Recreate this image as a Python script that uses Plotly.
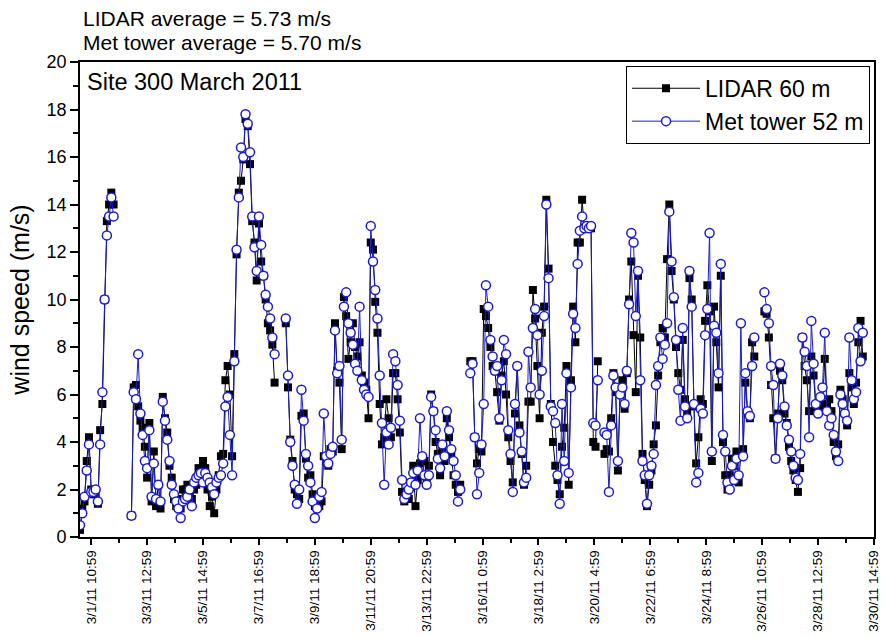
import pandas as pd
import plotly.graph_objects as go

# ---- data: wind speed records sampled every 2 h, split where the record has gaps ----
tick_labels = [
    "3/1/11 10:59", "3/3/11 12:59", "3/5/11 14:59", "3/7/11 16:59",
    "3/9/11 18:59", "3/11/11 20:59", "3/13/11 22:59", "3/16/11 0:59",
    "3/18/11 2:59", "3/20/11 4:59", "3/22/11 6:59", "3/24/11 8:59",
    "3/26/11 10:59", "3/28/11 12:59", "3/30/11 14:59",
]

seg_start = [
    "2011-03-01 01:00", "2011-03-02 23:00", "2011-03-08 17:00",
    "2011-03-15 14:00", "2011-03-20 14:00", "2011-03-26 13:00",
]
step_hours = 2

lidar_a = [0.3, 1.2, 1.5, 3.2, 4.2, 2.0, 1.8, 1.8, 1.4, 4.5, 5.6, 10.0, 13.3, 14.0, 14.5, 14.0]
met_a = [0.5, 1.0, 1.7, 2.8, 3.9, 1.9, 1.9, 2.0, 1.5, 3.9, 6.1, 10.0, 12.7, 13.5, 14.3, 13.5]

lidar_b = [0.9, 6.3, 6.4, 5.5, 4.9, 4.6, 3.8, 2.5, 4.8, 1.5, 3.6, 1.3, 2.2, 1.2, 5.9, 5.0,
           4.4, 3.0, 2.5, 1.6, 1.3, 1.6, 1.2, 2.0, 2.0, 2.2, 1.9, 1.6, 2.0, 2.2, 2.9, 2.4,
           3.2, 2.9, 2.0, 1.3, 1.7, 1.0, 2.0, 2.6, 3.4, 3.5, 6.6, 7.2, 6.0, 3.4, 7.7, 11.9,
           14.5, 15.0, 15.9, 17.6, 17.3, 15.7, 13.3, 12.4, 10.8, 13.2, 11.6, 11.0, 10.0, 9.0,
           8.7, 8.1, 6.5]
met_b = [0.9, 6.1, 5.8, 7.7, 5.2, 4.3, 3.2, 2.9, 4.5, 1.7, 3.1, 1.6, 2.2, 1.5, 5.7, 4.9,
         4.1, 3.2, 2.2, 1.8, 1.5, 1.2, 0.8, 1.5, 1.6, 1.7, 2.0, 1.3, 2.3, 2.5, 2.6, 2.7,
         2.3, 2.7, 2.5, 2.3, 2.1, 1.8, 2.3, 2.5, 2.6, 3.1, 5.5, 5.9, 4.3, 2.6, 7.4, 12.1,
         14.3, 16.4, 16.0, 17.8, 17.4, 16.2, 13.5, 12.2, 11.2, 13.5, 12.3, 11.0, 10.2, 9.7,
         9.2, 8.4, 7.7]

lidar_c = [9.0, 6.3, 4.1, 3.2, 2.0, 1.8, 1.6, 5.1, 5.2, 3.3, 2.5, 2.6, 1.8, 1.3, 1.6, 1.3,
           1.5, 3.4, 3.2, 3.0, 3.7, 3.6, 9.0, 7.0, 6.5, 3.7, 10.1, 9.3, 7.5, 8.2, 9.0, 8.0,
           7.6, 8.2, 6.8, 6.5, 6.2, 5.0, 12.4, 12.1, 9.9, 8.6, 5.6, 3.9, 4.2, 5.8, 5.0, 4.2,
           6.9, 6.9, 5.8, 4.4, 1.9, 1.5, 1.9, 1.6, 2.1, 3.0, 1.3, 2.4, 3.1, 2.6, 3.2, 2.5,
           3.0, 6.0, 5.3, 4.0, 3.5, 2.6, 3.7, 3.2, 5.0, 4.2, 3.5, 2.6, 2.2, 1.9, 2.2]
met_c = [9.2, 6.8, 4.0, 3.0, 2.2, 1.4, 2.0, 6.2, 4.9, 3.5, 3.0, 2.3, 1.5, 0.8, 1.2, 1.7,
         1.9, 5.2, 3.4, 3.1, 3.5, 3.8, 8.7, 6.9, 7.2, 4.1, 9.7, 10.3, 9.0, 8.6, 8.1, 7.3,
         7.0, 9.7, 6.6, 6.2, 6.0, 5.9, 13.1, 11.6, 10.4, 9.2, 6.8, 4.8, 2.2, 4.4, 3.9, 4.6,
         7.7, 7.4, 6.4, 4.9, 2.4, 1.6, 1.8, 2.0, 2.3, 2.7, 2.2, 2.8, 5.0, 3.4, 2.6, 2.2,
         2.6, 5.9, 5.3, 4.5, 3.3, 2.9, 3.9, 3.4, 5.3, 4.5, 3.7, 3.2, 2.6, 1.5, 2.0]

lidar_d = [7.4, 7.4, 4.2, 3.1, 3.7, 3.6, 9.6, 9.3, 8.8, 8.0, 7.2, 7.0, 6.1, 4.9, 6.8, 7.4,
           6.0, 4.2, 3.2, 2.3, 5.2, 7.2, 4.7, 3.5, 2.2, 3.0, 5.7, 5.7, 10.4, 9.2, 7.2, 5.0,
           8.6, 9.7, 14.2, 11.3, 5.6, 4.0, 3.0, 2.4, 1.8, 3.8, 4.6, 7.2, 2.2, 6.6, 9.7, 8.2,
           12.4, 12.4, 14.2, 13.0, 13.0, 13.0, 13.0, 4.0, 3.8, 7.4]
met_d = [6.9, 7.3, 4.2, 1.8, 2.7, 3.9, 5.6, 10.6, 9.7, 8.3, 7.6, 7.0, 7.2, 5.0, 6.6, 8.3,
         7.7, 4.5, 3.5, 1.9, 5.6, 7.2, 4.4, 3.6, 2.3, 2.5, 7.8, 6.3, 8.8, 9.6, 8.5, 6.0,
         7.0, 9.3, 14.0, 10.9, 5.5, 5.3, 4.8, 2.6, 1.4, 5.6, 3.2, 6.9, 2.7, 6.3, 9.4, 8.8,
         11.5, 12.9, 13.5, 13.0, 13.1, 13.0, 13.1, 4.8, 4.7, 6.6]

lidar_e = [3.5, 3.7, 3.6, 5.0, 6.9, 6.1, 2.8, 6.3, 6.6, 5.4, 6.9, 10.0, 11.6, 8.5, 6.1, 11.0,
           8.4, 3.5, 2.4, 1.3, 2.2, 2.8, 3.9, 4.7, 6.8, 8.2, 8.8, 8.4, 11.7, 14.0, 11.2, 10.0,
           8.0, 6.9, 6.2, 8.3, 5.8, 5.3, 10.9, 10.0, 5.5, 3.1, 4.2, 5.8, 5.6, 9.1, 10.6, 9.5,
           3.2, 9.7, 8.2, 6.3, 11.0, 4.0, 2.6, 2.0, 2.6, 3.3, 3.0, 3.6, 2.3, 3.5, 3.7, 6.5,
           5.2, 5.0, 8.2, 7.6]
met_e = [4.4, 4.3, 1.9, 4.7, 6.8, 6.3, 3.2, 6.0, 6.3, 5.6, 7.0, 9.8, 12.8, 12.4, 9.3, 11.2,
         6.6, 3.2, 2.6, 1.4, 2.6, 3.0, 3.5, 6.4, 7.2, 8.4, 7.5, 8.1, 9.0, 13.7, 11.6, 10.1,
         8.3, 6.2, 4.9, 8.8, 5.5, 5.0, 11.2, 9.7, 5.6, 2.3, 2.7, 5.4, 5.2, 8.5, 9.6, 12.8,
         3.6, 8.9, 8.6, 6.9, 11.5, 4.3, 3.6, 2.3, 2.0, 3.0, 2.4, 3.3, 2.6, 9.0, 3.4, 6.9,
         5.3, 5.1, 7.2, 8.4]

lidar_f = [9.5, 9.4, 8.4, 6.4, 5.0, 3.3, 5.2, 7.0, 6.6, 5.2, 4.8, 3.8, 3.2, 2.8, 2.4, 1.9,
           2.9, 8.4, 7.2, 6.6, 5.3, 7.6, 6.8, 5.4, 5.3, 5.8, 5.5, 7.5, 5.6, 5.8, 5.3, 4.0,
           3.4, 3.9, 6.2, 5.8, 5.2, 4.7, 6.9, 6.3, 5.6, 6.5, 8.2, 9.1, 7.6]
met_f = [10.3, 9.6, 9.0, 7.2, 6.4, 3.3, 5.0, 7.3, 6.8, 5.5, 4.7, 4.1, 3.6, 3.0, 2.5, 2.4,
         3.5, 8.4, 7.8, 7.2, 4.2, 9.1, 7.3, 5.6, 5.2, 5.9, 6.3, 8.6, 5.3, 4.7, 5.0, 4.3,
         3.6, 3.2, 6.0, 5.6, 5.2, 4.9, 8.4, 6.6, 5.8, 6.1, 8.8, 7.4, 8.6]

lidar_segments = [lidar_a, lidar_b, lidar_c, lidar_d, lidar_e, lidar_f]
met_segments = [met_a, met_b, met_c, met_d, met_e, met_f]


def join_segments(starts, segments):
    """Concatenate the record pieces, leaving a None between them so the line breaks."""
    xs, ys = [], []
    for start, vals in zip(starts, segments):
        times = pd.date_range(start, periods=len(vals), freq=f"{step_hours}h")
        xs.extend(times.to_pydatetime().tolist())
        ys.extend(vals)
        xs.append(None)
        ys.append(None)
    return xs[:-1], ys[:-1]


lidar_x, lidar_y = join_segments(seg_start, lidar_segments)
met_x, met_y = join_segments(seg_start, met_segments)

tick_times = pd.to_datetime(tick_labels, format="%m/%d/%y %H:%M")
minor_times = [a + (b - a) / 2 for a, b in zip(tick_times[:-1], tick_times[1:])]

FONT = "Liberation Sans, Arial, Helvetica, sans-serif"
BLUE = "rgb(28,28,205)"

fig = go.Figure()
fig.add_trace(go.Scatter(
    x=lidar_x, y=lidar_y, mode="lines+markers", name="LIDAR 60 m",
    line=dict(color="black", width=1),
    marker=dict(symbol="square", size=8, color="black"),
    connectgaps=False,
))
fig.add_trace(go.Scatter(
    x=met_x, y=met_y, mode="lines+markers", name="Met tower 52 m",
    line=dict(color=BLUE, width=1),
    marker=dict(symbol="circle", size=9, color="white", line=dict(color=BLUE, width=1.5)),
    connectgaps=False,
))

fig.update_layout(
    width=885, height=637,
    margin=dict(l=80, r=4, t=62, b=100),
    paper_bgcolor="white", plot_bgcolor="white",
    font=dict(family=FONT, color="black"),
    showlegend=True,
    legend=dict(
        x=0.995, y=0.992, xanchor="right", yanchor="top",
        bgcolor="white", bordercolor="black", borderwidth=1,
        font=dict(size=23, family=FONT), itemwidth=68, tracegroupgap=0,
    ),
    xaxis=dict(
        type="date",
        range=["2011-03-01 00:59", "2011-03-30 15:02"],
        tickmode="array", tickvals=list(tick_times), ticktext=tick_labels,
        tickangle=-90, tickfont=dict(size=13.5), ticklabeloverflow="allow",
        ticks="outside", ticklen=6, tickwidth=1.5, tickcolor="black",
        minor=dict(tickvals=minor_times, ticks="outside", ticklen=4,
                   tickwidth=1.5, tickcolor="black"),
        showline=True, linecolor="black", linewidth=1.6, mirror=True,
        showgrid=False, zeroline=False,
    ),
    yaxis=dict(
        range=[0, 20], dtick=2, tick0=0,
        tickfont=dict(size=18),
        ticks="outside", ticklen=8, tickwidth=1.5, tickcolor="black",
        minor=dict(dtick=1, ticks="outside", ticklen=5, tickwidth=1.5, tickcolor="black"),
        showline=True, linecolor="black", linewidth=1.6, mirror=True,
        showgrid=False, zeroline=False,
        title=dict(text="wind speed (m/s)", font=dict(size=25), standoff=10),
    ),
)

fig.add_annotation(
    text="LIDAR average = 5.73 m/s",
    xref="paper", yref="paper", x=0, y=1, xanchor="left", yanchor="middle",
    xshift=1, yshift=44, showarrow=False,
    font=dict(size=21, family=FONT),
)
fig.add_annotation(
    text="Met tower average = 5.70 m/s",
    xref="paper", yref="paper", x=0, y=1, xanchor="left", yanchor="middle",
    xshift=1, yshift=20, showarrow=False,
    font=dict(size=21, family=FONT),
)
fig.add_annotation(
    text="Site 300 March 2011",
    xref="paper", yref="paper", x=0, y=1, xanchor="left", yanchor="middle",
    xshift=5, yshift=-20, showarrow=False,
    font=dict(size=23.5, family=FONT),
)

fig.write_html("out.html")
